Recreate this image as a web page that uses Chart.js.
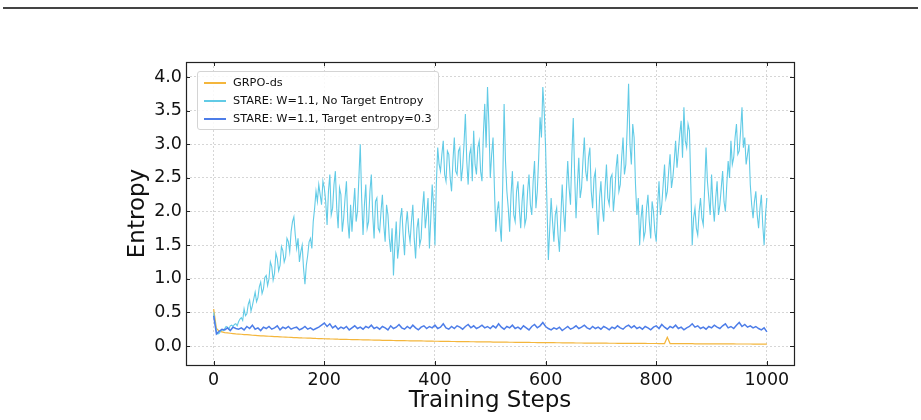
<!DOCTYPE html>
<html>
<head>
<meta charset="utf-8">
<script src="https://cdn.jsdelivr.net/npm/chart.js@4.4.1/dist/chart.umd.min.js"></script>
<style>
  body { margin: 0; background: #fff; }
  #wrap { position: relative; width: 921px; height: 420px; }
  #topRule { position: absolute; left: 3px; top: 7px; width: 915px; height: 2px; background: #444; }
  #legend {
    position: absolute; left: 197px; top: 71px; width: 240px; height: 57px;
    border: 1px solid #d4d4d4; border-radius: 3px; background: rgba(255,255,255,0.85);
    font-family: "DejaVu Sans", sans-serif; font-size: 11.3px; color: #111;
  }
  .row { position: absolute; left: 0; height: 14px; line-height: 14px; white-space: nowrap; }
  .swatch { position: absolute; left: 6px; top: 6px; width: 22px; height: 1.5px; }
  .label { position: absolute; left: 35px; top: 0; }
</style>
</head>
<body>
<div id="wrap">
  <canvas id="chart" width="921" height="420"></canvas>
  <div id="topRule"></div>
  <div id="legend"></div>
</div>
<script>
const seriesNames = ["GRPO-ds", "STARE: W=1.1, No Target Entropy", "STARE: W=1.1, Target entropy=0.3"];
const seriesColors = ["#f4b63c", "#62cbe6", "#4d7de8"];

const xTicks = [0, 200, 400, 600, 800, 1000];
const yTicks = [0, 0.5, 1, 1.5, 2, 2.5, 3, 3.5, 4];

// sample positions: every 5 steps for the smooth runs, every 2.5 for the noisy one
const steps = Array.from({ length: 201 }, (_, i) => i * 5);
const fineSteps = Array.from({ length: 401 }, (_, i) => i * 2.5);

const grpoValues = [
  0.55, 0.26, 0.22, 0.21, 0.20, 0.195, 0.19, 0.185, 0.18, 0.178,
  0.175, 0.17, 0.168, 0.165, 0.16, 0.158, 0.155, 0.152, 0.15, 0.148,
  0.145, 0.143, 0.14, 0.138, 0.136, 0.134, 0.132, 0.13, 0.128, 0.126,
  0.124, 0.122, 0.12, 0.119, 0.117, 0.116, 0.114, 0.112, 0.111, 0.11,
  0.108, 0.107, 0.105, 0.104, 0.103, 0.101, 0.1, 0.099, 0.098, 0.097,
  0.096, 0.095, 0.094, 0.093, 0.092, 0.091, 0.09, 0.089, 0.088, 0.087,
  0.086, 0.085, 0.084, 0.083, 0.083, 0.082, 0.081, 0.08, 0.08, 0.079,
  0.078, 0.077, 0.077, 0.076, 0.075, 0.075, 0.074, 0.073, 0.073, 0.072,
  0.071, 0.071, 0.07, 0.069, 0.069, 0.068, 0.067, 0.067, 0.066, 0.066,
  0.065, 0.064, 0.064, 0.063, 0.063, 0.062, 0.062, 0.061, 0.061, 0.06,
  0.06, 0.059, 0.059, 0.058, 0.058, 0.057, 0.057, 0.056, 0.056, 0.055,
  0.055, 0.054, 0.054, 0.053, 0.053, 0.052, 0.052, 0.051, 0.051, 0.05,
  0.05, 0.05, 0.049, 0.049, 0.048, 0.048, 0.047, 0.047, 0.047, 0.046,
  0.046, 0.045, 0.045, 0.045, 0.044, 0.044, 0.044, 0.043, 0.043, 0.043,
  0.042, 0.042, 0.042, 0.041, 0.041, 0.041, 0.04, 0.04, 0.04, 0.04,
  0.039, 0.039, 0.039, 0.038, 0.038, 0.038, 0.038, 0.037, 0.037, 0.037,
  0.037, 0.036, 0.036, 0.036, 0.13, 0.036, 0.035, 0.035, 0.035, 0.035,
  0.034, 0.034, 0.034, 0.034, 0.033, 0.033, 0.033, 0.033, 0.033, 0.032,
  0.032, 0.032, 0.032, 0.032, 0.031, 0.031, 0.031, 0.031, 0.031, 0.03,
  0.03, 0.03, 0.03, 0.03, 0.03, 0.029, 0.029, 0.029, 0.029, 0.029,
  0.028
];

const noTargetValues = [
  0.50, 0.35, 0.22, 0.18, 0.19, 0.22, 0.24, 0.23, 0.26, 0.29, 0.28, 0.25, 0.30, 0.31, 0.29, 0.32, 0.33, 0.30, 0.36, 0.40,
  0.42, 0.38, 0.55, 0.45, 0.48, 0.62, 0.68, 0.52, 0.60, 0.70, 0.80, 0.66, 0.72, 0.88, 0.95, 0.78, 0.85, 1.02, 1.05, 0.90,
  1.00, 1.25, 1.18, 0.98, 1.08, 1.38, 1.30, 1.12, 1.20, 1.48, 1.42, 1.25, 1.32, 1.60, 1.55, 1.40, 1.70, 1.85, 1.92, 1.65,
  1.45, 1.60, 1.25, 1.40, 1.50, 1.15, 0.92, 1.20, 1.35, 1.55, 1.60, 1.45, 1.85, 2.05, 2.30, 2.15, 2.40, 2.25, 2.10, 2.45,
  2.35, 2.15, 1.80, 2.30, 2.55, 1.95, 2.05, 2.40, 2.60, 2.05, 1.75, 2.35, 2.25, 1.70, 1.90, 2.20, 2.45, 1.85, 1.60, 2.10,
  1.70, 2.05, 2.35, 1.85, 2.00, 2.50, 3.00, 2.20, 1.65, 2.10, 2.40, 1.75, 1.85, 2.30, 2.55, 1.95, 1.60, 2.15, 2.20, 1.75,
  1.70, 2.00, 2.25, 1.80, 1.55, 2.10, 1.95, 1.60, 1.40, 1.75, 1.05, 1.50, 1.85, 1.30, 1.50, 1.90, 2.05, 1.65, 1.35, 1.80,
  2.00, 1.70, 1.55, 1.85, 2.10, 1.60, 1.30, 1.75, 1.90, 1.50, 1.60, 2.05, 2.30, 1.75, 1.95, 2.20, 1.45, 1.90, 2.40, 2.10,
  1.50, 2.40, 2.95, 2.70, 2.60, 2.85, 3.05, 2.55, 2.45, 2.90, 2.85, 2.50, 2.30, 2.75, 3.10, 2.60, 2.55, 2.90, 2.95, 2.45,
  2.65, 3.00, 3.45, 2.75, 2.40, 2.85, 2.95, 2.45, 3.20, 2.70, 2.55, 2.95, 3.05, 2.60, 2.45, 3.15, 3.60, 2.95, 3.85, 3.30,
  2.50, 2.85, 3.10, 2.35, 1.70, 2.00, 2.15, 1.80, 1.55, 2.40, 3.60, 2.75, 2.30, 2.05, 1.70, 2.25, 2.60, 1.95, 1.85, 2.30,
  2.45, 2.05, 1.75, 2.15, 2.40, 1.80, 1.90, 2.30, 2.55, 2.10, 1.95, 2.45, 2.75, 2.05, 2.30, 2.80, 3.40, 3.10, 3.85, 3.50,
  2.95, 2.10, 1.28, 1.75, 2.20, 1.85, 1.55, 1.95, 2.05, 1.65, 1.40, 1.90, 2.40, 2.00, 1.70, 2.30, 2.75, 2.35, 2.10, 2.85,
  3.39, 2.55, 1.90, 2.40, 2.80, 2.20, 2.35, 2.75, 3.10, 2.60, 2.45, 2.80, 2.95, 2.30, 2.05, 2.50, 2.60, 2.00, 1.65, 2.20,
  2.45, 2.05, 1.85, 2.35, 2.70, 2.20, 2.10, 2.50, 2.55, 2.00, 2.25, 2.65, 2.85, 2.30, 2.40, 2.80, 3.10, 2.55, 2.70, 3.25,
  3.90, 3.00, 2.70, 3.30, 3.10, 2.40, 1.95, 2.20, 1.50, 1.90, 2.10, 1.60, 1.70, 2.05, 2.25, 1.85, 1.60, 2.15, 2.00, 1.70,
  1.55, 2.10, 2.45, 1.95, 2.10, 2.40, 2.70, 2.20, 2.30, 2.60, 2.85, 2.35, 2.50, 2.75, 3.05, 2.65, 2.90, 3.15, 3.35, 2.80,
  3.55, 3.05, 2.95, 3.30, 3.20, 2.40, 1.50, 1.90, 2.05, 1.75, 1.65, 2.00, 2.20, 1.90, 1.80, 2.35, 2.95, 2.45, 2.20, 1.95,
  2.55, 2.10, 1.85, 2.20, 2.45, 1.95, 2.10, 2.35, 2.60, 2.15, 2.00, 2.40, 2.75, 2.50, 3.05, 2.70, 2.80, 3.10, 3.30, 2.85,
  2.90, 3.20, 3.55, 2.95, 3.10, 2.70, 2.85, 3.00, 2.40, 2.10, 1.90, 2.15, 2.30, 1.95, 1.75, 2.05, 2.25, 1.80, 1.50, 1.95,
  2.20
];

const target03Values = [
  0.45, 0.18, 0.22, 0.25, 0.24, 0.27, 0.23, 0.28, 0.26, 0.25,
  0.27, 0.24, 0.29, 0.26, 0.31, 0.25, 0.27, 0.23, 0.28, 0.26,
  0.29, 0.25, 0.27, 0.30, 0.24, 0.28, 0.26, 0.29, 0.25, 0.27,
  0.28, 0.24, 0.26, 0.29, 0.25, 0.27, 0.24, 0.26, 0.28, 0.31,
  0.34, 0.29, 0.33, 0.27, 0.30, 0.25, 0.28, 0.26, 0.29, 0.24,
  0.27, 0.30, 0.26, 0.28, 0.25, 0.29, 0.27, 0.31, 0.26, 0.28,
  0.25, 0.29, 0.27, 0.24, 0.30, 0.26, 0.28, 0.32, 0.27, 0.25,
  0.29, 0.26, 0.31, 0.27, 0.24, 0.28, 0.30, 0.26, 0.29, 0.27,
  0.31, 0.26, 0.28, 0.33, 0.27, 0.25, 0.29, 0.26, 0.30, 0.28,
  0.25, 0.29, 0.32, 0.27, 0.30, 0.26, 0.28, 0.31, 0.27, 0.29,
  0.26, 0.30, 0.27, 0.33, 0.28, 0.25, 0.29, 0.27, 0.31, 0.26,
  0.28, 0.25, 0.30, 0.27, 0.24, 0.29, 0.32, 0.27, 0.30, 0.35,
  0.29, 0.26, 0.24, 0.27, 0.25, 0.28, 0.23, 0.26, 0.29, 0.25,
  0.27, 0.30, 0.26, 0.28, 0.31, 0.27, 0.25, 0.29, 0.26, 0.28,
  0.25, 0.29, 0.27, 0.24, 0.28, 0.26, 0.30, 0.27, 0.25, 0.29,
  0.31, 0.27, 0.30, 0.26, 0.28, 0.25, 0.29, 0.27, 0.24, 0.28,
  0.30, 0.26, 0.32, 0.28, 0.25, 0.29, 0.27, 0.31, 0.26, 0.28,
  0.24, 0.27, 0.29, 0.33, 0.28, 0.30, 0.26, 0.28, 0.25, 0.29,
  0.27, 0.31, 0.28, 0.26, 0.30, 0.33, 0.27, 0.29, 0.26, 0.31,
  0.35, 0.29, 0.32, 0.28, 0.30, 0.27, 0.29, 0.26, 0.24, 0.27,
  0.21
];

const seriesValues = [grpoValues, noTargetValues, target03Values];
const seriesSteps = [steps, fineSteps, steps];
const lineWidths = [1.2, 1.1, 1.5];
const drawOrder = [2, 1, 0];

function toPoints(values, xs) {
  return values.map((v, i) => ({ x: xs[i], y: v }));
}

// legend box drawn over the plot, like the reference
const legendBox = document.getElementById("legend");
legendBox.innerHTML = seriesNames.map((name, i) => `
  <div class="row" style="top:${4 + i * 18}px">
    <span class="swatch" style="background:${seriesColors[i]}"></span>
    <span class="label">${name}</span>
  </div>`).join("");

// frame around the plot plus inward tick marks on all four sides
const frameAndTicks = {
  id: "frameAndTicks",
  afterDraw(chart) {
    const { ctx, chartArea: a, scales } = chart;
    const len = 4;
    ctx.save();
    ctx.strokeStyle = "#222";
    ctx.lineWidth = 1;
    ctx.beginPath();
    xTicks.forEach((t) => {
      const px = Math.round(scales.x.getPixelForValue(t)) + 0.5;
      ctx.moveTo(px, a.bottom); ctx.lineTo(px, a.bottom - len);
      ctx.moveTo(px, a.top); ctx.lineTo(px, a.top + len);
    });
    yTicks.forEach((t) => {
      const py = Math.round(scales.y.getPixelForValue(t)) + 0.5;
      ctx.moveTo(a.left, py); ctx.lineTo(a.left + len, py);
      ctx.moveTo(a.right, py); ctx.lineTo(a.right - len, py);
    });
    ctx.stroke();
    ctx.lineWidth = 1.2;
    ctx.strokeRect(Math.round(a.left) + 0.5, Math.round(a.top) + 0.5,
      Math.round(a.right - a.left), Math.round(a.bottom - a.top));
    ctx.restore();
  },
};

const gridStyle = {
  color: "#d6d6d6",
  lineWidth: 1,
  drawTicks: false,
};

new Chart(document.getElementById("chart").getContext("2d"), {
  type: "line",
  data: {
    datasets: seriesValues.map((vals, i) => ({
      label: seriesNames[i],
      data: toPoints(vals, seriesSteps[i]),
      borderColor: seriesColors[i],
      borderWidth: lineWidths[i],
      pointRadius: 0,
      tension: 0,
      fill: false,
      order: drawOrder[i],
    })),
  },
  options: {
    responsive: false,
    animation: false,
    layout: { padding: { top: 62, right: 127, left: 0, bottom: 0 } },
    plugins: { legend: { display: false }, tooltip: { enabled: false } },
    scales: {
      x: {
        type: "linear",
        min: -50,
        max: 1049,
        afterBuildTicks: (scale) => { scale.ticks = xTicks.map((v) => ({ value: v })); },
        afterFit: (scale) => { scale.height = 55; },
        grid: gridStyle,
        border: { display: false, dash: [2, 2] },
        ticks: {
          padding: 5,
          color: "#111",
          font: { family: "DejaVu Sans", size: 17.5 },
          callback: (v) => String(v),
        },
        title: {
          display: true,
          text: "Training Steps",
          color: "#111",
          font: { family: "DejaVu Sans", size: 23 },
          padding: { top: 0, bottom: 5 },
        },
      },
      y: {
        min: -0.2825,
        max: 4.223,
        afterBuildTicks: (scale) => { scale.ticks = yTicks.map((v) => ({ value: v })); },
        afterFit: (scale) => { scale.width = 186; },
        grid: gridStyle,
        border: { display: false, dash: [2, 2] },
        ticks: {
          padding: 4,
          color: "#111",
          font: { family: "DejaVu Sans", size: 17.5 },
          callback: (v) => v.toFixed(1),
        },
        title: {
          display: true,
          text: "Entropy",
          color: "#111",
          font: { family: "DejaVu Sans", size: 23 },
          padding: { top: 124, bottom: 0 },
        },
      },
    },
  },
  plugins: [frameAndTicks],
});
</script>
</body>
</html>
